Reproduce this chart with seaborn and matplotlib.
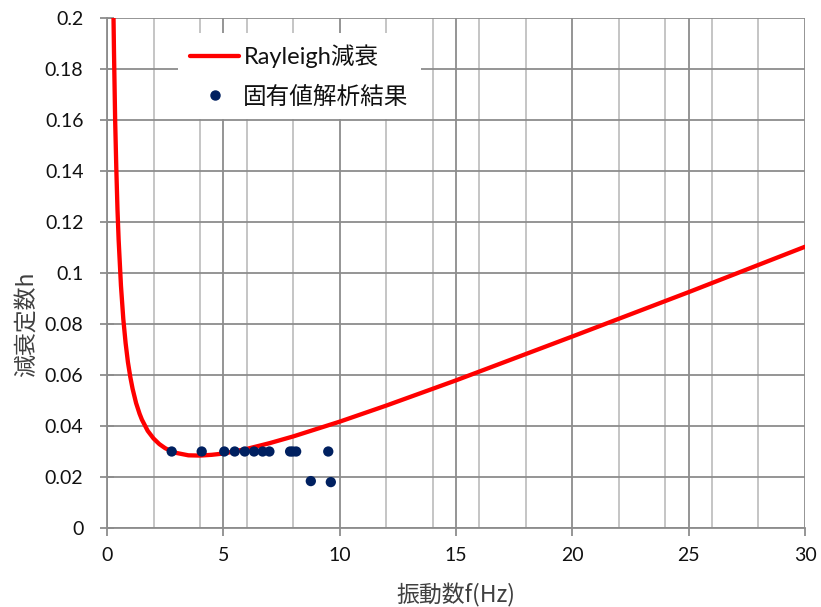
import matplotlib
matplotlib.use("Agg")
import matplotlib.pyplot as plt
import seaborn as sns
import pandas as pd
from matplotlib.ticker import MultipleLocator
from matplotlib.lines import Line2D

# Rayleigh damping curve
curve_f = [0.28, 0.3, 0.35, 0.4, 0.45, 0.5, 0.6, 0.7, 0.8, 0.9, 1.0, 1.1, 1.25, 1.4, 1.5, 1.75,
           2.0, 2.25, 2.5, 2.75, 3.0, 3.5, 4.0, 4.5, 5.0, 6.0, 7.0, 8.0, 10.0, 12.0, 15.0, 20.0, 25.0, 30.0]
curve_h = [0.200, 0.187, 0.160, 0.141, 0.125, 0.113, 0.095, 0.082, 0.0725, 0.065, 0.0593, 0.0546,
           0.049, 0.0448, 0.0425, 0.0381, 0.0351, 0.0329, 0.0313, 0.0302, 0.0294, 0.0285, 0.0284,
           0.0287, 0.0292, 0.0310, 0.0333, 0.0359, 0.0417, 0.0480, 0.0579, 0.0751, 0.0925, 0.1103]

# Eigenvalue analysis results
eig_f = [2.78, 4.07, 5.04, 5.49, 5.92, 6.32, 6.69, 6.98, 7.87, 7.98, 8.13, 8.76, 9.51, 9.62]
eig_h = [0.030, 0.030, 0.030, 0.030, 0.030, 0.030, 0.030, 0.030, 0.030, 0.030, 0.030, 0.0184, 0.030, 0.018]

label_curve = "Rayleigh減衰"
label_eig = "固有値解析結果"
xlabel = "振動数f(Hz)"
ylabel = "減衰定数h"

sns.set_theme(style="white")
plt.rcParams["font.family"] = ["Lato", "Noto Sans CJK JP", "DejaVu Sans"]

fig = plt.figure(figsize=(8.21, 6.07), dpi=100)
ax = fig.add_axes([107/821, 1-528/607, (805-107)/821, (528-18)/607])

df_curve = pd.DataFrame({"f": curve_f, "h": curve_h})
df_eig = pd.DataFrame({"f": eig_f, "h": eig_h})

sns.lineplot(data=df_curve, x="f", y="h", ax=ax, color="#ff0000", linewidth=3.1,
             zorder=3, legend=False, sort=False)
sns.scatterplot(data=df_eig, x="f", y="h", ax=ax, color="#002060", s=55,
                edgecolor="none", zorder=4, legend=False)

ax.set_xlim(0, 30)
ax.set_ylim(0, 0.2)
ax.xaxis.set_major_locator(MultipleLocator(5))
ax.xaxis.set_minor_locator(MultipleLocator(2))
ax.yaxis.set_major_locator(MultipleLocator(0.02))
ax.set_yticks(ax.get_yticks())
ax.set_yticklabels([f"{v:g}" for v in ax.get_yticks()])
ax.set_ylim(0, 0.2)

ax.set_axisbelow(True)
ax.grid(which="minor", axis="x", color="#c0c0c0", linewidth=1.3, zorder=0)
ax.grid(which="major", axis="x", color="#8c8c8c", linewidth=1.3, zorder=1)
ax.grid(which="major", axis="y", color="#8c8c8c", linewidth=1.3, zorder=1)

for s in ["top", "right"]:
    ax.spines[s].set_visible(False)
for s in ["left", "bottom"]:
    ax.spines[s].set_color("#8c8c8c")
    ax.spines[s].set_linewidth(1.3)

ax.tick_params(axis="x", which="major", direction="out", length=6, width=1.3,
               color="#8c8c8c", labelsize=14, pad=8, bottom=True, labelcolor="#111111")
ax.tick_params(axis="x", which="minor", length=0)
ax.tick_params(axis="y", which="major", direction="inout", length=10, width=1.3,
               color="#8c8c8c", labelsize=14, pad=12, left=True, labelcolor="#111111")

ax.set_xlabel(xlabel, fontsize=16.5, color="#404040", family=["Noto Sans CJK JP"])
ax.set_ylabel(ylabel, fontsize=16.5, color="#404040", family=["Noto Sans CJK JP"])
ax.xaxis.set_label_coords(0.5, -0.108)
ax.yaxis.set_label_coords(-0.100, 0.40)

h1 = Line2D([], [], color="#ff0000", linewidth=3.1)
h2 = Line2D([], [], color="#002060", marker="o", linestyle="none", markersize=6.5)
leg = ax.legend([h1, h2], [label_curve, label_eig], loc="upper left",
                bbox_to_anchor=(0.1017, 0.9706), borderaxespad=0, frameon=True, fancybox=False,
                facecolor="white", edgecolor="none", framealpha=1,
                fontsize=17, handlelength=2.1, handletextpad=0.17, labelspacing=0.72,
                borderpad=0.5)
for t in leg.get_texts():
    t.set_color("#111111")

fig.savefig("out.png", dpi=100)
